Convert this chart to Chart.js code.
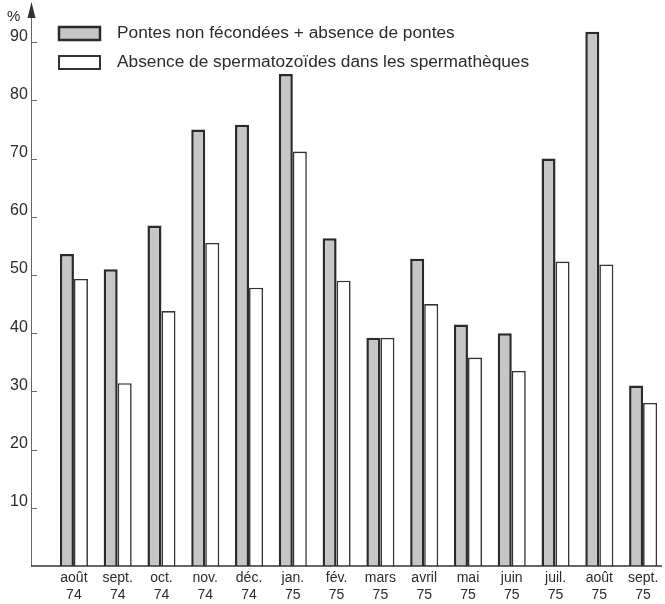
<!DOCTYPE html>
<html>
<head>
<meta charset="utf-8">
<script src="https://cdn.jsdelivr.net/npm/chart.js@4"></script>
<style>
  body { margin: 0; background: #fff; }
</style>
</head>
<body>
<canvas id="myChart" width="665" height="604"></canvas>
<script>
const months = [['août', '74'], ['sept.', '74'], ['oct.', '74'], ['nov.', '74'], ['déc.', '74'], ['jan.', '75'], ['fév.', '75'],
                ['mars', '75'], ['avril', '75'], ['mai', '75'], ['juin', '75'], ['juil.', '75'], ['août', '75'], ['sept.', '75']];
const pontes = [53.6, 51, 58.5, 75, 75.8, 84.5, 56.3, 39.2, 52.8, 41.5, 40, 70, 91.8, 31];
const absence = [49.3, 31.4, 43.8, 55.5, 47.8, 71.2, 49, 39.2, 45, 35.8, 33.5, 52.3, 51.8, 28];
const yTicks = [10, 20, 30, 40, 50, 60, 70, 80, 90];

const font = "'Liberation Sans', Arial, sans-serif";
const ink = '#2b2b2b';

// axis line with arrow, small tick marks, baseline and the legend
const decor = {
    id: 'decor',
    afterDraw(chart) {
        const ctx = chart.ctx;
        const y = chart.scales.y;
        const area = chart.chartArea;
        const axisX = 31;
        const base = y.getPixelForValue(0);
        ctx.save();
        ctx.strokeStyle = '#666';
        ctx.lineWidth = 1;
        ctx.beginPath();
        ctx.moveTo(axisX + 0.5, base);
        ctx.lineTo(axisX + 0.5, 10);
        ctx.stroke();
        yTicks.forEach(v => {
            const py = Math.round(y.getPixelForValue(v)) + 0.5;
            ctx.beginPath();
            ctx.moveTo(axisX, py);
            ctx.lineTo(axisX + 6, py);
            ctx.stroke();
        });
        // arrow
        ctx.fillStyle = '#333';
        ctx.beginPath();
        ctx.moveTo(axisX + 0.5, 2);
        ctx.lineTo(axisX - 3.5, 18);
        ctx.lineTo(axisX + 4.5, 18);
        ctx.closePath();
        ctx.fill();
        // baseline
        ctx.strokeStyle = '#333';
        ctx.lineWidth = 1.5;
        ctx.beginPath();
        ctx.moveTo(axisX, base);
        ctx.lineTo(area.right - 3, base);
        ctx.stroke();
        // % label
        ctx.fillStyle = ink;
        ctx.font = '15px ' + font;
        ctx.textAlign = 'left';
        ctx.textBaseline = 'middle';
        ctx.fillText('%', 7, 17);
        // legend
        const rows = [33, 62];
        chart.data.datasets.forEach((ds, i) => {
            const ry = rows[i];
            ctx.fillStyle = ds.backgroundColor;
            ctx.fillRect(59, ry - 6, 41, 13);
            ctx.strokeStyle = ds.borderColor;
            ctx.lineWidth = i === 0 ? 2.5 : 2;
            ctx.strokeRect(59, ry - 6, 41, 13);
            ctx.fillStyle = ink;
            ctx.font = '17.3px ' + font;
            ctx.fillText(ds.label, 117, ry);
        });
        ctx.restore();
    }
};

const ctx = document.getElementById('myChart').getContext('2d');
const myChart = new Chart(ctx, {
    type: 'bar',
    data: {
        labels: months,
        datasets: [{
            label: 'Pontes non fécondées + absence de pontes',
            data: pontes,
            backgroundColor: '#c6c6c6',
            borderColor: '#2a2a2a',
            borderWidth: 2.5
        }, {
            label: 'Absence de spermatozoïdes dans les spermathèques',
            data: absence,
            backgroundColor: '#ffffff',
            borderColor: '#333333',
            borderWidth: 1.6
        }]
    },
    options: {
        responsive: false,
        animation: false,
        layout: { padding: { top: 13, right: 0, left: 10, bottom: 0 } },
        datasets: {
            bar: { categoryPercentage: 0.64, barPercentage: 1 }
        },
        plugins: {
            legend: { display: false },
            tooltip: { enabled: false }
        },
        scales: {
            x: {
                afterFit(scale) { scale.height = 38; },
                grid: { display: false, drawTicks: false },
                border: { display: false },
                ticks: {
                    color: ink,
                    padding: 4,
                    maxRotation: 0,
                    autoSkip: false,
                    font: { family: font, size: 14, lineHeight: '17px' }
                }
            },
            y: {
                min: 0,
                max: 95,
                afterFit(scale) { scale.width = 42; },
                afterBuildTicks(scale) { scale.ticks = yTicks.map(v => ({ value: v })); },
                grid: { display: false, drawTicks: false },
                border: { display: false },
                ticks: {
                    color: ink,
                    padding: 0,
                    crossAlign: 'far',
                    labelOffset: -6,
                    font: { family: font, size: 16 }
                }
            }
        }
    },
    plugins: [decor]
});
</script>
</body>
</html>
